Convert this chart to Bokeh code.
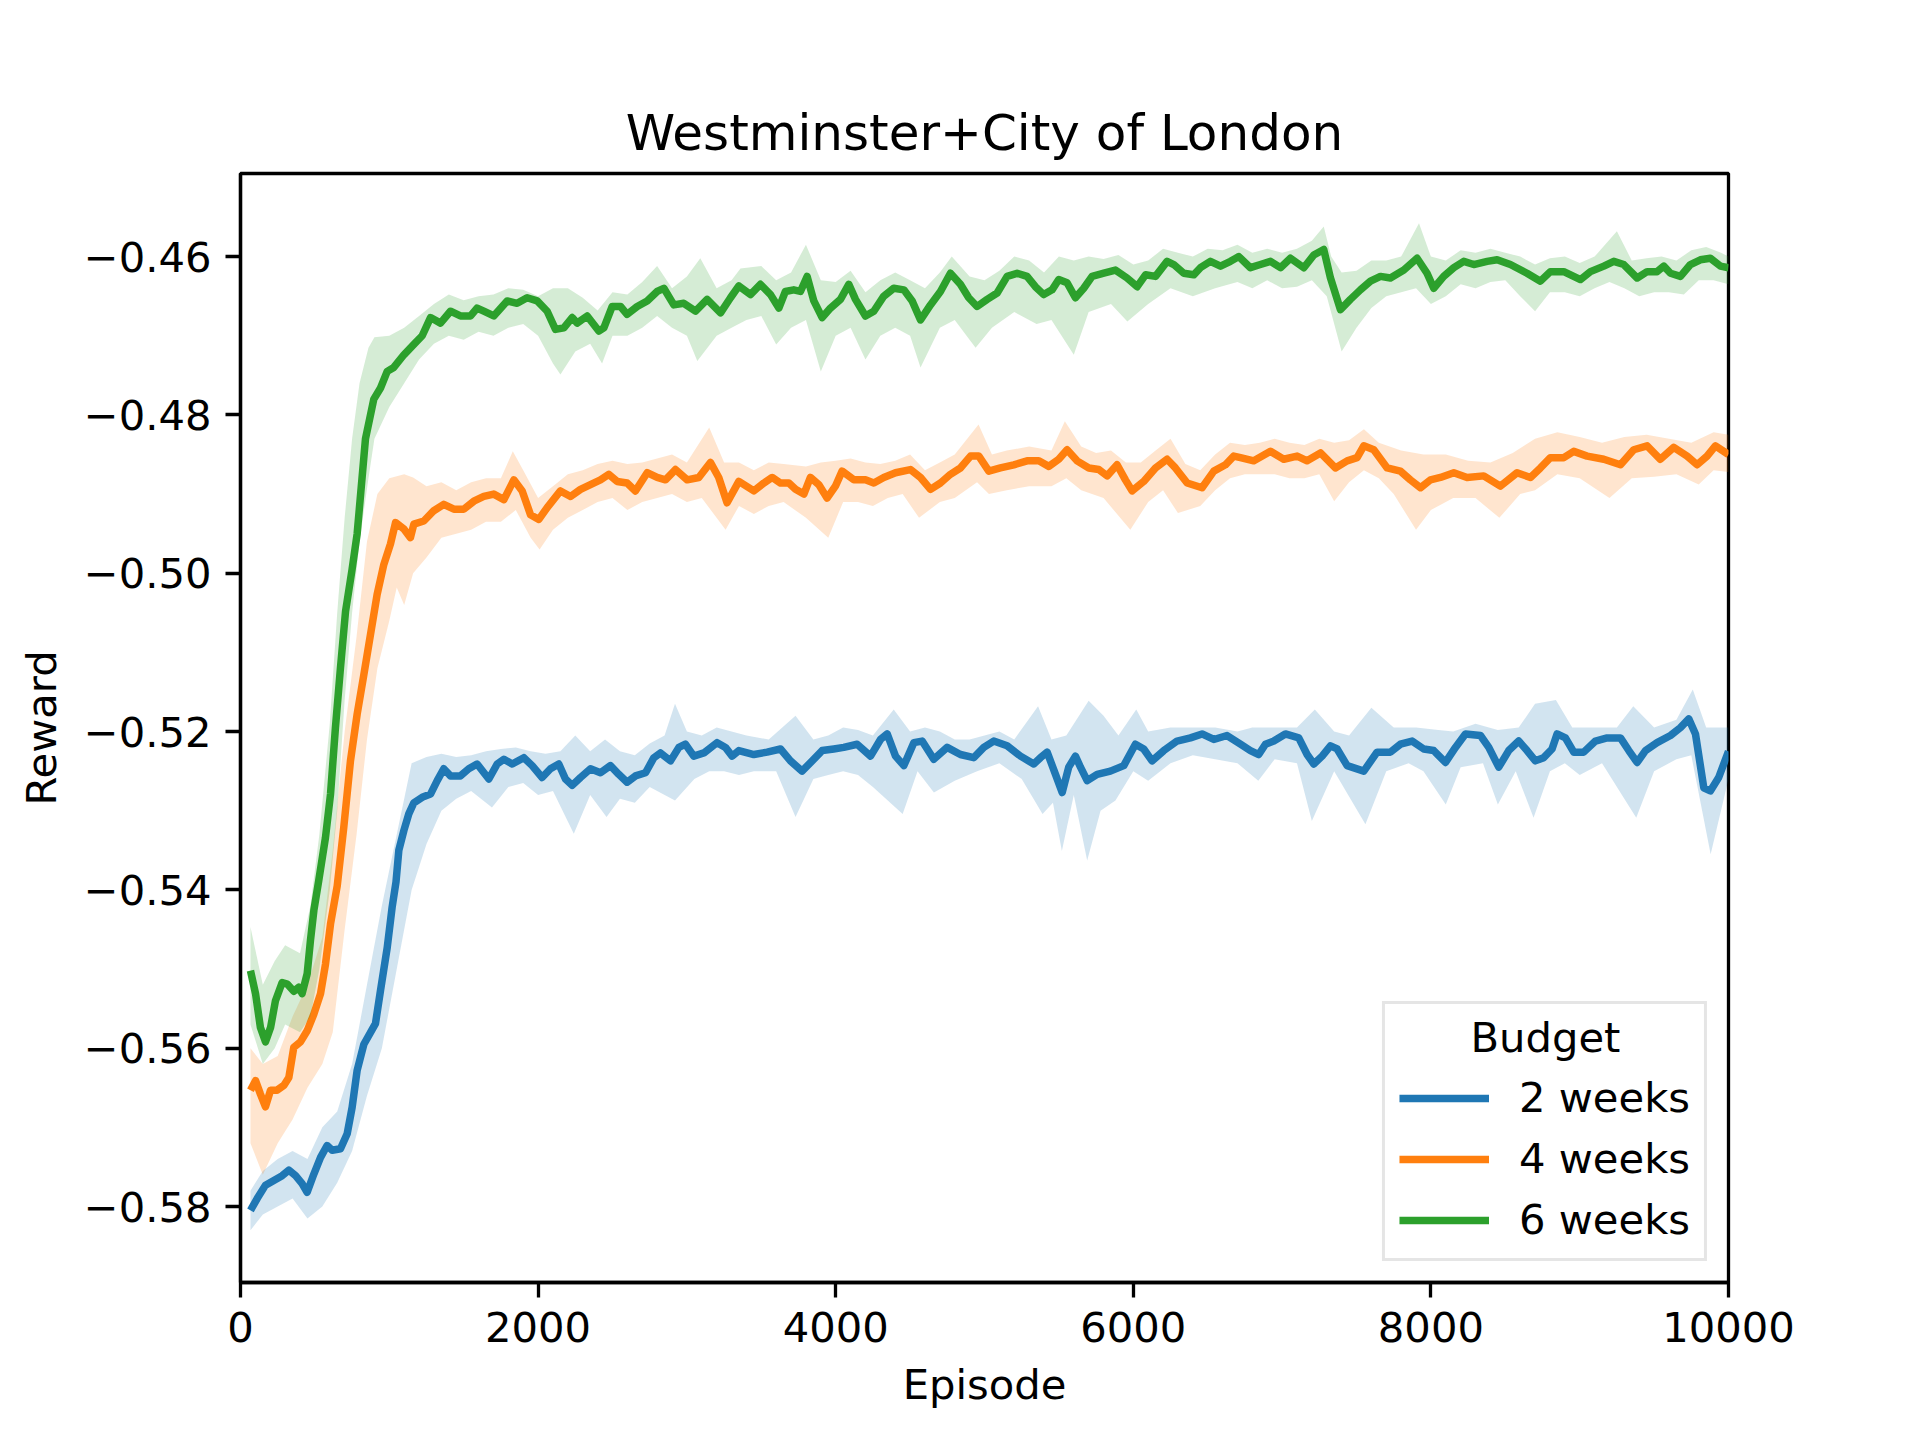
from bokeh.plotting import figure
from bokeh.models import FixedTicker, CustomJSTickFormatter, Legend, LegendItem, ColumnDataSource, Label
from bokeh.embed import file_html
from bokeh.resources import INLINE

title = "Westminster+City of London"
x_label = "Episode"
y_label = "Reward"
legend_title = "Budget"
series_names = ["2 weeks", "4 weeks", "6 weeks"]
colors = ["#1f77b4", "#ff7f0e", "#2ca02c"]
x_ticks = [0, 2000, 4000, 6000, 8000, 10000]
y_ticks = [-0.58, -0.56, -0.54, -0.52, -0.50, -0.48, -0.46]

# ---------- 2 weeks (blue) ----------
blue_x = [67, 112, 168, 224, 280, 325, 370, 414, 448, 493, 538, 582, 616, 672, 717, 750, 784, 829, 874, 907,
          941, 986, 1019, 1045, 1064, 1098, 1131, 1165, 1221, 1277, 1322, 1366, 1411, 1478, 1534, 1590, 1669,
          1725, 1770, 1826, 1904, 1960, 2027, 2083, 2139, 2184, 2229, 2285, 2352, 2419, 2486, 2542, 2598, 2654,
          2722, 2778, 2822, 2890, 2946, 2990, 3046, 3114, 3203, 3259, 3304, 3349, 3450, 3539, 3629, 3696, 3774,
          3842, 3909, 3987, 4054, 4144, 4234, 4301, 4346, 4402, 4458, 4525, 4581, 4659, 4749, 4838, 4928, 4995,
          5062, 5152, 5242, 5331, 5376, 5421, 5477, 5522, 5566, 5611, 5645, 5690, 5757, 5846, 5936, 6014, 6070,
          6126, 6205, 6294, 6384, 6462, 6541, 6630, 6720, 6787, 6843, 6888, 6944, 7022, 7112, 7168, 7213, 7269,
          7325, 7370, 7437, 7549, 7638, 7728, 7795, 7874, 7952, 8019, 8098, 8165, 8232, 8333, 8389, 8456, 8523,
          8590, 8646, 8702, 8758, 8814, 8848, 8904, 8960, 9027, 9106, 9184, 9274, 9330, 9386, 9442, 9520, 9610,
          9677, 9733, 9778, 9834, 9878, 9934, 10000]
blue_y = [-0.5805, -0.5790, -0.5773, -0.5767, -0.5761, -0.5754, -0.5761, -0.5771, -0.5782, -0.5759, -0.5738,
          -0.5723, -0.5729, -0.5727, -0.5708, -0.5675, -0.5628, -0.5595, -0.5580, -0.5569, -0.5527, -0.5473,
          -0.5422, -0.5390, -0.5350, -0.5325, -0.5304, -0.5290, -0.5283, -0.5279, -0.5262, -0.5247, -0.5256,
          -0.5256, -0.5247, -0.5241, -0.5260, -0.5241, -0.5235, -0.5241, -0.5233, -0.5243, -0.5258, -0.5247,
          -0.5241, -0.5260, -0.5268, -0.5258, -0.5247, -0.5252, -0.5243, -0.5254, -0.5264, -0.5256, -0.5252,
          -0.5233, -0.5227, -0.5237, -0.5220, -0.5216, -0.5231, -0.5227, -0.5214, -0.5220, -0.5231, -0.5224,
          -0.5229, -0.5226, -0.5222, -0.5237, -0.5250, -0.5237, -0.5224, -0.5222, -0.5220, -0.5216, -0.5231,
          -0.5210, -0.5203, -0.5231, -0.5243, -0.5214, -0.5212, -0.5235, -0.5220, -0.5229, -0.5233, -0.5220,
          -0.5212, -0.5218, -0.5231, -0.5241, -0.5233, -0.5226, -0.5254, -0.5277, -0.5245, -0.5231, -0.5245,
          -0.5262, -0.5254, -0.5250, -0.5243, -0.5216, -0.5222, -0.5237, -0.5224, -0.5212, -0.5208, -0.5203,
          -0.5210, -0.5205, -0.5216, -0.5224, -0.5229, -0.5216, -0.5212, -0.5203, -0.5208, -0.5229, -0.5241,
          -0.5231, -0.5218, -0.5222, -0.5243, -0.5250, -0.5226, -0.5226, -0.5216, -0.5212, -0.5222, -0.5224,
          -0.5239, -0.5220, -0.5203, -0.5205, -0.5220, -0.5245, -0.5224, -0.5212, -0.5224, -0.5237, -0.5233,
          -0.5222, -0.5203, -0.5208, -0.5226, -0.5226, -0.5212, -0.5208, -0.5208, -0.5224, -0.5239, -0.5224,
          -0.5214, -0.5205, -0.5195, -0.5184, -0.5203, -0.5271, -0.5275, -0.5258, -0.5225]
blue_hi_x = [67, 150, 250, 350, 450, 550, 650, 750, 850, 950, 1050, 1150, 1250, 1350, 1450, 1550, 1650, 1750,
             1850, 1950, 2050, 2150, 2250, 2350, 2450, 2550, 2650, 2750, 2850, 2920, 3000, 3100, 3200, 3300,
             3400, 3550, 3730, 3850, 3950, 4050, 4150, 4250, 4390, 4500, 4600, 4700, 4800, 4900, 5000, 5100,
             5200, 5360, 5450, 5550, 5700, 5800, 5900, 6020, 6100, 6250, 6400, 6550, 6700, 6800, 6950, 7100,
             7220, 7350, 7450, 7600, 7750, 7900, 8050, 8150, 8300, 8450, 8590, 8700, 8840, 8950, 9100, 9250,
             9360, 9500, 9650, 9760, 9850, 10000]
blue_hi_y = [-0.5780, -0.5755, -0.5740, -0.5730, -0.5740, -0.5700, -0.5680, -0.5620, -0.5520, -0.5420, -0.5330,
             -0.5240, -0.5232, -0.5228, -0.5232, -0.5230, -0.5225, -0.5222, -0.5220, -0.5225, -0.5228, -0.5225,
             -0.5205, -0.5225, -0.5210, -0.5225, -0.5230, -0.5215, -0.5205, -0.5165, -0.5200, -0.5205, -0.5195,
             -0.5200, -0.5205, -0.5210, -0.5180, -0.5210, -0.5205, -0.5195, -0.5198, -0.5205, -0.5172, -0.5200,
             -0.5195, -0.5200, -0.5210, -0.5210, -0.5205, -0.5200, -0.5210, -0.5168, -0.5210, -0.5205, -0.5161,
             -0.5180, -0.5205, -0.5172, -0.5200, -0.5195, -0.5195, -0.5195, -0.5200, -0.5195, -0.5195, -0.5195,
             -0.5172, -0.5200, -0.5205, -0.5170, -0.5195, -0.5195, -0.5198, -0.5200, -0.5190, -0.5198, -0.5195,
             -0.5165, -0.5160, -0.5195, -0.5195, -0.5195, -0.5168, -0.5195, -0.5185, -0.5147, -0.5195, -0.5195]
blue_lo_x = [67, 150, 250, 350, 450, 550, 650, 750, 850, 950, 1050, 1150, 1250, 1350, 1450, 1550, 1690, 1800,
             1900, 2000, 2100, 2240, 2350, 2460, 2550, 2650, 2750, 2920, 3050, 3150, 3250, 3350, 3450, 3600,
             3730, 3850, 3950, 4050, 4150, 4250, 4450, 4550, 4660, 4800, 4950, 5100, 5250, 5390, 5460, 5520,
             5600, 5690, 5780, 5880, 6000, 6100, 6250, 6400, 6550, 6700, 6840, 6950, 7100, 7200, 7350, 7560,
             7700, 7850, 7950, 8100, 8200, 8350, 8450, 8570, 8690, 8800, 8900, 9000, 9150, 9380, 9500, 9650,
             9750, 9880, 10000]
blue_lo_y = [-0.5830, -0.5810, -0.5800, -0.5790, -0.5815, -0.5800, -0.5770, -0.5730, -0.5660, -0.5600, -0.5500,
             -0.5400, -0.5342, -0.5300, -0.5285, -0.5275, -0.5296, -0.5270, -0.5265, -0.5280, -0.5275, -0.5329,
             -0.5280, -0.5308, -0.5285, -0.5290, -0.5270, -0.5287, -0.5260, -0.5250, -0.5250, -0.5255, -0.5250,
             -0.5250, -0.5308, -0.5260, -0.5255, -0.5250, -0.5255, -0.5270, -0.5304, -0.5250, -0.5277, -0.5262,
             -0.5250, -0.5240, -0.5260, -0.5304, -0.5290, -0.5351, -0.5280, -0.5363, -0.5300, -0.5287, -0.5250,
             -0.5262, -0.5240, -0.5230, -0.5235, -0.5240, -0.5262, -0.5235, -0.5240, -0.5313, -0.5250, -0.5317,
             -0.5250, -0.5240, -0.5250, -0.5292, -0.5245, -0.5240, -0.5292, -0.5250, -0.5309, -0.5250, -0.5240,
             -0.5255, -0.5240, -0.5309, -0.5250, -0.5235, -0.5230, -0.5355, -0.5260]

# ---------- 4 weeks (orange) ----------
orange_x = [67, 101, 134, 168, 202, 246, 291, 325, 358, 403, 448, 493, 538, 571, 605, 650, 694, 739, 784, 829,
            874, 918, 963, 1008, 1042, 1098, 1142, 1165, 1232, 1299, 1366, 1434, 1501, 1568, 1635, 1702, 1770,
            1837, 1893, 1949, 2005, 2061, 2150, 2218, 2285, 2352, 2419, 2475, 2531, 2598, 2654, 2733, 2800,
            2856, 2923, 3002, 3080, 3158, 3214, 3270, 3349, 3450, 3517, 3573, 3629, 3685, 3730, 3786, 3830,
            3886, 3942, 3998, 4043, 4122, 4200, 4256, 4323, 4402, 4502, 4570, 4637, 4704, 4771, 4838, 4906,
            4962, 5029, 5107, 5197, 5286, 5365, 5432, 5499, 5555, 5622, 5701, 5768, 5824, 5891, 5947, 5992,
            6070, 6149, 6227, 6283, 6362, 6462, 6541, 6619, 6675, 6720, 6810, 6922, 7011, 7101, 7168, 7258,
            7358, 7437, 7504, 7549, 7616, 7706, 7795, 7862, 7930, 7997, 8064, 8154, 8243, 8355, 8467, 8579,
            8669, 8736, 8803, 8893, 8960, 9050, 9162, 9274, 9363, 9453, 9542, 9632, 9722, 9789, 9856, 9912,
            10000]
orange_y = [-0.5653, -0.5641, -0.5658, -0.5674, -0.5653, -0.5653, -0.5647, -0.5637, -0.5599, -0.5592, -0.5578,
            -0.5557, -0.5531, -0.5494, -0.5443, -0.5395, -0.5321, -0.5237, -0.5178, -0.5128, -0.5077, -0.5027,
            -0.4989, -0.4963, -0.4936, -0.4944, -0.4955, -0.4938, -0.4934, -0.4921, -0.4913, -0.4919, -0.4919,
            -0.4909, -0.4903, -0.4900, -0.4907, -0.4882, -0.4896, -0.4926, -0.4932, -0.4917, -0.4896, -0.4903,
            -0.4894, -0.4888, -0.4882, -0.4875, -0.4884, -0.4886, -0.4896, -0.4873, -0.4879, -0.4882, -0.4869,
            -0.4882, -0.4879, -0.4860, -0.4879, -0.4911, -0.4884, -0.4896, -0.4886, -0.4879, -0.4886, -0.4886,
            -0.4894, -0.4900, -0.4879, -0.4888, -0.4905, -0.4890, -0.4871, -0.4882, -0.4882, -0.4886, -0.4879,
            -0.4873, -0.4869, -0.4879, -0.4894, -0.4886, -0.4875, -0.4867, -0.4852, -0.4852, -0.4871, -0.4867,
            -0.4863, -0.4858, -0.4858, -0.4865, -0.4856, -0.4844, -0.4858, -0.4867, -0.4869, -0.4877, -0.4863,
            -0.4882, -0.4896, -0.4884, -0.4867, -0.4856, -0.4867, -0.4886, -0.4892, -0.4871, -0.4863, -0.4852,
            -0.4854, -0.4858, -0.4846, -0.4856, -0.4852, -0.4858, -0.4848, -0.4867, -0.4858, -0.4854, -0.4839,
            -0.4844, -0.4867, -0.4871, -0.4882, -0.4892, -0.4882, -0.4879, -0.4873, -0.4879, -0.4877, -0.4890,
            -0.4873, -0.4879, -0.4867, -0.4854, -0.4854, -0.4846, -0.4852, -0.4856, -0.4863, -0.4844, -0.4839,
            -0.4856, -0.4841, -0.4852, -0.4863, -0.4852, -0.4839, -0.4850]
orange_hi_x = [67, 150, 250, 350, 450, 550, 620, 700, 780, 850, 920, 1000, 1100, 1160, 1250, 1350, 1450, 1550,
               1650, 1750, 1830, 1900, 2000, 2100, 2200, 2300, 2400, 2500, 2600, 2700, 2800, 2900, 3000, 3150,
               3250, 3350, 3450, 3550, 3650, 3800, 3900, 4000, 4100, 4200, 4300, 4400, 4500, 4600, 4700, 4800,
               4960, 5050, 5150, 5300, 5450, 5540, 5650, 5750, 5850, 5950, 6050, 6150, 6250, 6350, 6450, 6550,
               6650, 6750, 6850, 6950, 7050, 7150, 7250, 7350, 7450, 7550, 7650, 7800, 7950, 8100, 8250, 8400,
               8550, 8700, 8850, 9000, 9150, 9300, 9450, 9600, 9750, 9900, 10000]
orange_hi_y = [-0.5600, -0.5620, -0.5610, -0.5560, -0.5520, -0.5460, -0.5350, -0.5200, -0.5080, -0.4960, -0.4900,
               -0.4880, -0.4875, -0.4879, -0.4890, -0.4885, -0.4895, -0.4885, -0.4880, -0.4880, -0.4846, -0.4870,
               -0.4905, -0.4890, -0.4875, -0.4870, -0.4862, -0.4858, -0.4862, -0.4860, -0.4855, -0.4850, -0.4860,
               -0.4816, -0.4860, -0.4860, -0.4870, -0.4860, -0.4862, -0.4865, -0.4860, -0.4858, -0.4855, -0.4860,
               -0.4862, -0.4858, -0.4850, -0.4870, -0.4860, -0.4850, -0.4812, -0.4850, -0.4845, -0.4840, -0.4845,
               -0.4808, -0.4840, -0.4848, -0.4845, -0.4860, -0.4860, -0.4845, -0.4830, -0.4862, -0.4870, -0.4850,
               -0.4835, -0.4838, -0.4835, -0.4830, -0.4835, -0.4838, -0.4830, -0.4835, -0.4832, -0.4818, -0.4835,
               -0.4845, -0.4850, -0.4850, -0.4858, -0.4860, -0.4848, -0.4830, -0.4822, -0.4828, -0.4835, -0.4828,
               -0.4825, -0.4830, -0.4835, -0.4822, -0.4825]
orange_lo_x = [67, 150, 250, 350, 450, 550, 620, 700, 780, 850, 920, 1000, 1050, 1100, 1160, 1250, 1350, 1450,
               1550, 1650, 1750, 1850, 1950, 2010, 2100, 2200, 2300, 2400, 2500, 2600, 2700, 2800, 2900, 3000,
               3100, 3260, 3350, 3450, 3550, 3650, 3800, 3950, 4050, 4150, 4250, 4350, 4450, 4560, 4700, 4800,
               4950, 5030, 5150, 5300, 5450, 5550, 5650, 5800, 5980, 6100, 6200, 6300, 6450, 6550, 6650, 6750,
               6850, 6950, 7050, 7150, 7250, 7350, 7450, 7550, 7650, 7750, 7900, 8000, 8150, 8300, 8460, 8600,
               8700, 8850, 9000, 9200, 9350, 9500, 9650, 9800, 9900, 10000]
orange_lo_y = [-0.5720, -0.5760, -0.5720, -0.5690, -0.5650, -0.5620, -0.5580, -0.5450, -0.5330, -0.5210, -0.5120,
               -0.5060, -0.5018, -0.5040, -0.5000, -0.4980, -0.4955, -0.4950, -0.4945, -0.4935, -0.4935, -0.4920,
               -0.4955, -0.4970, -0.4945, -0.4930, -0.4920, -0.4910, -0.4905, -0.4920, -0.4910, -0.4905, -0.4900,
               -0.4910, -0.4905, -0.4945, -0.4915, -0.4925, -0.4915, -0.4910, -0.4930, -0.4955, -0.4910, -0.4910,
               -0.4915, -0.4905, -0.4900, -0.4930, -0.4910, -0.4905, -0.4885, -0.4900, -0.4895, -0.4890, -0.4890,
               -0.4880, -0.4895, -0.4905, -0.4945, -0.4910, -0.4895, -0.4924, -0.4915, -0.4895, -0.4880, -0.4875,
               -0.4875, -0.4875, -0.4880, -0.4880, -0.4875, -0.4909, -0.4885, -0.4870, -0.4880, -0.4900, -0.4945,
               -0.4920, -0.4905, -0.4905, -0.4930, -0.4900, -0.4895, -0.4875, -0.4880, -0.4905, -0.4880, -0.4878,
               -0.4875, -0.4888, -0.4870, -0.4872]

# ---------- 6 weeks (green) ----------
green_x = [67, 101, 134, 168, 202, 235, 280, 314, 358, 392, 414, 448, 470, 493, 526, 571, 605, 638, 672, 706,
           750, 784, 840, 896, 941, 986, 1030, 1098, 1165, 1221, 1277, 1344, 1411, 1478, 1546, 1590, 1635, 1702,
           1792, 1859, 1926, 1994, 2061, 2117, 2173, 2229, 2262, 2330, 2408, 2442, 2498, 2554, 2598, 2666, 2733,
           2800, 2845, 2912, 2979, 3058, 3136, 3226, 3293, 3349, 3427, 3494, 3562, 3618, 3662, 3718, 3763, 3808,
           3853, 3909, 3965, 4032, 4088, 4133, 4200, 4256, 4323, 4390, 4458, 4514, 4570, 4637, 4704, 4771, 4838,
           4894, 4950, 5018, 5085, 5152, 5219, 5286, 5342, 5398, 5454, 5499, 5555, 5611, 5667, 5723, 5802, 5880,
           5958, 6026, 6082, 6149, 6227, 6272, 6339, 6406, 6451, 6518, 6586, 6653, 6709, 6787, 6854, 6922, 6989,
           7056, 7146, 7213, 7280, 7325, 7392, 7459, 7526, 7594, 7661, 7728, 7818, 7907, 7974, 8019, 8086, 8154,
           8221, 8288, 8378, 8445, 8534, 8646, 8736, 8803, 8893, 9005, 9072, 9162, 9229, 9296, 9386, 9453, 9520,
           9565, 9610, 9677, 9744, 9811, 9878, 9946, 10000]
green_y = [-0.5502, -0.5531, -0.5574, -0.5592, -0.5574, -0.5540, -0.5517, -0.5519, -0.5528, -0.5523, -0.5531,
           -0.5506, -0.5464, -0.5426, -0.5388, -0.5334, -0.5279, -0.5195, -0.5119, -0.5048, -0.4995, -0.4950,
           -0.4830, -0.4780, -0.4766, -0.4745, -0.4740, -0.4724, -0.4711, -0.4700, -0.4677, -0.4684, -0.4669,
           -0.4675, -0.4675, -0.4665, -0.4669, -0.4675, -0.4656, -0.4659, -0.4652, -0.4656, -0.4669, -0.4692,
           -0.4690, -0.4677, -0.4684, -0.4675, -0.4694, -0.4690, -0.4663, -0.4663, -0.4673, -0.4663, -0.4656,
           -0.4644, -0.4640, -0.4661, -0.4659, -0.4669, -0.4654, -0.4671, -0.4652, -0.4637, -0.4648, -0.4635,
           -0.4648, -0.4665, -0.4644, -0.4642, -0.4644, -0.4625, -0.4656, -0.4677, -0.4665, -0.4654, -0.4635,
           -0.4654, -0.4675, -0.4669, -0.4650, -0.4640, -0.4642, -0.4656, -0.4680, -0.4661, -0.4644, -0.4621,
           -0.4635, -0.4652, -0.4663, -0.4654, -0.4646, -0.4625, -0.4621, -0.4625, -0.4638, -0.4648, -0.4642,
           -0.4629, -0.4633, -0.4652, -0.4640, -0.4625, -0.4621, -0.4617, -0.4627, -0.4638, -0.4623, -0.4625,
           -0.4606, -0.4610, -0.4621, -0.4623, -0.4614, -0.4606, -0.4612, -0.4606, -0.4600, -0.4614, -0.4610,
           -0.4606, -0.4614, -0.4602, -0.4614, -0.4598, -0.4591, -0.4627, -0.4667, -0.4654, -0.4642, -0.4631,
           -0.4625, -0.4627, -0.4617, -0.4602, -0.4621, -0.4640, -0.4625, -0.4614, -0.4606, -0.4610, -0.4606,
           -0.4604, -0.4610, -0.4621, -0.4631, -0.4619, -0.4619, -0.4629, -0.4619, -0.4612, -0.4606, -0.4610,
           -0.4627, -0.4619, -0.4619, -0.4612, -0.4621, -0.4625, -0.4610, -0.4604, -0.4602, -0.4612, -0.4614]
green_hi_x = [67, 150, 230, 300, 400, 470, 530, 600, 650, 700, 750, 800, 860, 900, 1000, 1100, 1200, 1300, 1400,
              1500, 1600, 1700, 1800, 1900, 2000, 2100, 2200, 2300, 2400, 2500, 2600, 2700, 2800, 2900, 3000,
              3090, 3200, 3300, 3360, 3500, 3600, 3700, 3800, 3900, 4000, 4100, 4200, 4300, 4400, 4500, 4600,
              4700, 4780, 4900, 5000, 5100, 5200, 5300, 5400, 5500, 5600, 5700, 5800, 5900, 6000, 6100, 6200,
              6300, 6400, 6500, 6600, 6700, 6800, 6900, 7000, 7100, 7200, 7280, 7330, 7400, 7500, 7600, 7700,
              7800, 7920, 8000, 8100, 8200, 8300, 8400, 8500, 8600, 8700, 8800, 8900, 9000, 9100, 9250, 9350,
              9450, 9550, 9650, 9750, 9850, 9950, 10000]
green_hi_y = [-0.5447, -0.5520, -0.5490, -0.5470, -0.5480, -0.5420, -0.5330, -0.5190, -0.5050, -0.4930, -0.4830,
              -0.4760, -0.4715, -0.4702, -0.4700, -0.4690, -0.4675, -0.4660, -0.4648, -0.4655, -0.4650, -0.4648,
              -0.4640, -0.4642, -0.4650, -0.4640, -0.4640, -0.4652, -0.4668, -0.4645, -0.4648, -0.4632, -0.4612,
              -0.4640, -0.4625, -0.4602, -0.4640, -0.4630, -0.4615, -0.4612, -0.4630, -0.4620, -0.4585, -0.4630,
              -0.4632, -0.4618, -0.4645, -0.4630, -0.4620, -0.4630, -0.4640, -0.4620, -0.4600, -0.4625, -0.4630,
              -0.4618, -0.4600, -0.4605, -0.4620, -0.4600, -0.4605, -0.4600, -0.4603, -0.4598, -0.4610, -0.4605,
              -0.4590, -0.4595, -0.4600, -0.4590, -0.4592, -0.4585, -0.4595, -0.4590, -0.4595, -0.4590, -0.4580,
              -0.4562, -0.4600, -0.4620, -0.4618, -0.4605, -0.4605, -0.4600, -0.4558, -0.4600, -0.4605, -0.4592,
              -0.4595, -0.4590, -0.4595, -0.4600, -0.4610, -0.4602, -0.4600, -0.4608, -0.4600, -0.4568, -0.4605,
              -0.4602, -0.4600, -0.4605, -0.4592, -0.4588, -0.4595, -0.4600]
green_lo_x = [67, 150, 230, 300, 400, 470, 530, 600, 650, 700, 750, 800, 860, 900, 1000, 1100, 1200, 1300, 1400,
              1500, 1600, 1700, 1800, 1900, 2000, 2100, 2150, 2250, 2350, 2430, 2500, 2600, 2700, 2800, 2900,
              3000, 3070, 3200, 3300, 3400, 3500, 3600, 3700, 3800, 3900, 4000, 4100, 4200, 4300, 4400, 4500,
              4570, 4700, 4800, 4940, 5050, 5200, 5350, 5450, 5600, 5700, 5850, 5960, 6100, 6250, 6400, 6550,
              6700, 6800, 6900, 7000, 7100, 7200, 7300, 7400, 7500, 7600, 7700, 7800, 7900, 8000, 8100, 8200,
              8300, 8400, 8500, 8600, 8700, 8800, 8900, 9000, 9100, 9200, 9300, 9400, 9500, 9600, 9700, 9800,
              9900, 10000]
green_lo_y = [-0.5570, -0.5620, -0.5600, -0.5570, -0.5580, -0.5560, -0.5500, -0.5400, -0.5300, -0.5160, -0.5050,
              -0.4960, -0.4880, -0.4830, -0.4790, -0.4760, -0.4730, -0.4710, -0.4700, -0.4705, -0.4695, -0.4700,
              -0.4690, -0.4685, -0.4700, -0.4735, -0.4749, -0.4720, -0.4710, -0.4735, -0.4700, -0.4700, -0.4690,
              -0.4675, -0.4690, -0.4700, -0.4732, -0.4700, -0.4690, -0.4680, -0.4675, -0.4711, -0.4690, -0.4680,
              -0.4745, -0.4700, -0.4690, -0.4730, -0.4700, -0.4690, -0.4700, -0.4740, -0.4690, -0.4680, -0.4715,
              -0.4690, -0.4670, -0.4685, -0.4680, -0.4724, -0.4670, -0.4660, -0.4682, -0.4660, -0.4640, -0.4650,
              -0.4640, -0.4632, -0.4640, -0.4630, -0.4640, -0.4638, -0.4630, -0.4650, -0.4720, -0.4690, -0.4665,
              -0.4650, -0.4645, -0.4640, -0.4660, -0.4650, -0.4635, -0.4640, -0.4632, -0.4630, -0.4650, -0.4669,
              -0.4645, -0.4645, -0.4650, -0.4640, -0.4632, -0.4640, -0.4650, -0.4645, -0.4645, -0.4648, -0.4630,
              -0.4630, -0.4635]

FONT = "DejaVu Sans"
TICK_FS = "41.7px"
BLACK = "black"

p = figure(width=1904, height=1424, output_backend="svg", toolbar_location=None,
           x_range=(0, 10000), y_range=(-0.5896, -0.4495),
           min_border_left=240, min_border_right=176, min_border_top=173, min_border_bottom=142,
           title=title)
p.background_fill_color = "white"
p.border_fill_color = "white"
p.outline_line_color = BLACK
p.outline_line_width = 3.3
p.grid.visible = False

p.title.text_font = FONT
p.title.text_font_size = "50px"
p.title.text_font_style = "normal"
p.title.text_color = BLACK
p.title.align = "center"
p.title.standoff = 24

for ax in (p.xaxis[0], p.yaxis[0]):
    ax.axis_line_width = 3.3
    ax.axis_line_color = BLACK
    ax.major_tick_line_width = 3.3
    ax.major_tick_line_color = BLACK
    ax.major_tick_out = 15
    ax.major_tick_in = 0
    ax.minor_tick_line_color = None
    ax.major_label_text_font = FONT
    ax.major_label_text_font_size = TICK_FS
    ax.major_label_text_color = BLACK
    ax.major_label_standoff = 14
    ax.axis_label_text_font = FONT
    ax.axis_label_text_font_size = TICK_FS
    ax.axis_label_text_font_style = "normal"
    ax.axis_label_text_color = BLACK
    ax.axis_label_standoff = 15

p.xaxis.axis_label = x_label
p.yaxis.axis_label = y_label
p.xaxis.ticker = FixedTicker(ticks=x_ticks)
p.yaxis.ticker = FixedTicker(ticks=y_ticks)
p.xaxis.formatter = CustomJSTickFormatter(code="return tick.toFixed(0);")
p.yaxis.formatter = CustomJSTickFormatter(
    code="return (tick < 0 ? '\u2212' : '') + Math.abs(tick).toFixed(2);")

series = [
    (blue_x, blue_y, blue_hi_x, blue_hi_y, blue_lo_x, blue_lo_y),
    (orange_x, orange_y, orange_hi_x, orange_hi_y, orange_lo_x, orange_lo_y),
    (green_x, green_y, green_hi_x, green_hi_y, green_lo_x, green_lo_y),
]

items = []
for (sx, sy, hx, hy, lx, ly), name, col in zip(series, series_names, colors):
    band_x = list(hx) + list(reversed(lx))
    band_y = list(hy) + list(reversed(ly))
    p.patch(band_x, band_y, fill_color=col, fill_alpha=0.2, line_color=None)
    src = ColumnDataSource(dict(x=sx, y=sy))
    r = p.line("x", "y", source=src, line_color=col, line_width=7.5, line_join="round")
    items.append(LegendItem(label=name, renderers=[r]))

# Legend title text is drawn centred with a Label; the legend reserves its space with a non-breaking space
p.add_layout(Label(x=8770, y=-0.5587, text=legend_title, text_align="center", text_baseline="middle",
                   text_font=FONT, text_font_size=TICK_FS, text_color=BLACK))

legend = Legend(items=items, location="bottom_right", title="\u00a0")
legend.title_text_font = FONT
legend.title_text_font_size = TICK_FS
legend.title_text_font_style = "normal"
legend.title_standoff = 6
legend.label_text_font = FONT
legend.label_text_font_size = TICK_FS
legend.label_text_color = BLACK
legend.glyph_width = 90
legend.glyph_height = 42
legend.label_standoff = 30
legend.spacing = 12
legend.padding = 14
legend.margin = 21
legend.border_line_color = "#cccccc"
legend.border_line_width = 3.3
legend.background_fill_color = None
p.add_layout(legend)

open("out.html", "w").write(file_html(p, INLINE))
